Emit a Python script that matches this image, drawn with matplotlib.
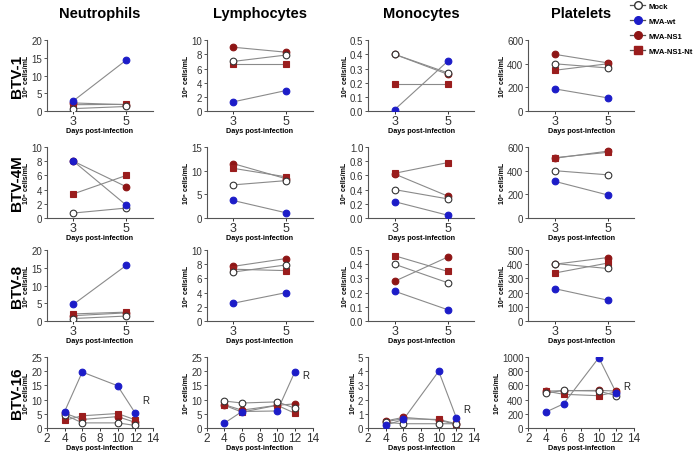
import matplotlib
matplotlib.use("Agg")
import matplotlib.pyplot as plt
from matplotlib.lines import Line2D

plt.rcParams['font.family'] = ['Liberation Sans', 'DejaVu Sans']

CELL_TYPES = ["Neutrophils", "Lymphocytes", "Monocytes", "Platelets"]
INFECTIONS = ["BTV-1", "BTV-4M", "BTV-8", "BTV-16"]
GROUPS = ["Mock", "MVA-wt", "MVA-NS1", "MVA-NS1-Nt"]

days_short = [3, 5]
days_long = [4, 6, 10, 12]

# each panel: [Mock, MVA-wt, MVA-NS1, MVA-NS1-Nt]
neut_btv1 = [[0.7, 1.3], [2.9, 14.4], [2.3, 1.8], [1.8, 1.9]]
lymph_btv1 = [[7.0, 7.9], [1.3, 2.9], [9.0, 8.3], [6.6, 6.6]]
mono_btv1 = [[0.40, 0.27], [0.01, 0.35], [0.40, 0.26], [0.19, 0.19]]
plt_btv1 = [[400, 365], [188, 112], [480, 408], [345, 400]]

neut_btv4 = [[0.7, 1.4], [8.0, 1.8], [8.0, 4.4], [3.4, 6.0]]
lymph_btv4 = [[7.0, 7.9], [3.7, 1.1], [11.5, 8.3], [10.5, 8.7]]
mono_btv4 = [[0.40, 0.27], [0.23, 0.04], [0.62, 0.31], [0.63, 0.78]]
plt_btv4 = [[400, 365], [310, 195], [505, 565], [510, 555]]

neut_btv8 = [[0.7, 1.4], [4.7, 15.7], [1.5, 2.3], [2.0, 2.5]]
lymph_btv8 = [[6.9, 7.9], [2.5, 4.0], [7.7, 8.8], [7.3, 7.1]]
mono_btv8 = [[0.40, 0.27], [0.21, 0.08], [0.28, 0.45], [0.46, 0.35]]
plt_btv8 = [[405, 370], [228, 147], [400, 447], [338, 408]]

neut_btv16 = [[4.7, 1.8, 1.8, 0.9], [5.8, 19.7, 14.9, 5.3],
              [5.2, 3.0, 4.0, 2.0], [2.7, 4.3, 5.1, 2.9]]
lymph_btv16 = [[9.5, 8.8, 9.2, 7.0], [1.7, 5.8, 6.0, 19.8],
               [8.2, 6.3, 8.0, 8.5], [8.0, 5.6, 8.0, 5.2]]
mono_btv16 = [[0.40, 0.30, 0.30, 0.30], [0.20, 0.60, 4.0, 0.72],
              [0.50, 0.75, 0.55, 0.25], [0.45, 0.65, 0.60, 0.30]]
plt_btv16 = [[490, 530, 520, 455], [225, 340, 990, 490],
             [520, 525, 530, 520], [520, 475, 455, 510]]

panels = [
    [neut_btv1, lymph_btv1, mono_btv1, plt_btv1],
    [neut_btv4, lymph_btv4, mono_btv4, plt_btv4],
    [neut_btv8, lymph_btv8, mono_btv8, plt_btv8],
    [neut_btv16, lymph_btv16, mono_btv16, plt_btv16],
]

# (ymax, tick step) per panel
y_scales = [
    [(20, 5), (10, 2), (0.5, 0.1), (600, 200)],
    [(10, 2), (15, 5), (1.0, 0.2), (600, 200)],
    [(20, 5), (10, 2), (0.5, 0.1), (500, 100)],
    [(25, 5), (25, 5), (5, 1), (1000, 200)],
]

styles = {
    "Mock": dict(marker='o', mfc='white', mec='#333333'),
    "MVA-wt": dict(marker='o', mfc='#1c1cc8', mec='#1c1cc8'),
    "MVA-NS1": dict(marker='o', mfc='#8e1515', mec='#8e1515'),
    "MVA-NS1-Nt": dict(marker='s', mfc='#9a1d1d', mec='#9a1d1d'),
}
draw_order = ["MVA-NS1", "MVA-NS1-Nt", "Mock", "MVA-wt"]
r_offsets = [(5, 6), (5, -6), (5, 3), (5, 0)]

fig = plt.figure(figsize=(6.96, 4.52), dpi=100)

lefts = [0.0675, 0.297, 0.529, 0.759]
bottoms = [0.752, 0.5155, 0.2876, 0.0509]
width, height = 0.152, 0.157

for r in range(4):
    for c in range(4):
        ax = fig.add_axes([lefts[c], bottoms[r], width, height])
        data = panels[r][c]
        days = days_long if r == 3 else days_short
        for g in draw_order:
            vals = data[GROUPS.index(g)]
            ax.plot(days, vals, color='#8a8a8a', lw=0.8, zorder=2)
            ax.plot(days, vals, ls='none', ms=4.8, mew=0.8, zorder=3, **styles[g])

        ymax, step = y_scales[r][c]
        n = int(round(ymax / step))
        ticks = [i * step for i in range(n + 1)]
        ax.set_ylim(0, ymax)
        ax.set_yticks(ticks)
        if ymax < 2:
            ax.set_yticklabels([f"{t:.1f}" for t in ticks])
        else:
            ax.set_yticklabels([f"{t:g}" for t in ticks])

        if r == 3:
            ax.set_xlim(2, 14)
            ax.set_xticks([2, 4, 6, 8, 10, 12, 14])
            ax.tick_params(axis='x', labelsize=8.5, pad=0.5)
            top = max(v[-1] for v in data)
            ax.annotate('R', xy=(12, top), xytext=r_offsets[c],
                        textcoords='offset points', fontsize=7, color='#222222',
                        va='bottom')
        else:
            ax.set_xlim(2, 6)
            ax.set_xticks([3, 5])
            ax.tick_params(axis='x', labelsize=9, pad=0.5)

        for s in ['top', 'right']:
            ax.spines[s].set_visible(False)
        for s in ['left', 'bottom']:
            ax.spines[s].set_color('#555555')
            ax.spines[s].set_linewidth(0.8)
        ax.tick_params(axis='y', labelsize=7, pad=1, colors='#333333')
        ax.tick_params(axis='both', length=2.5, width=0.7, color='#555555')
        ax.tick_params(axis='x', colors='#333333')
        ax.set_xlabel("Days post-infection", fontsize=5.2, fontweight='bold',
                      labelpad=0)
        ax.set_ylabel("10⁶ cells/mL", fontsize=5, fontweight='bold',
                      labelpad=1)

        if r == 0:
            ax.set_title(CELL_TYPES[c], fontsize=10.5, fontweight='bold',
                         pad=17)

    fig.text(0.025, bottoms[r] + height / 2, INFECTIONS[r], rotation=90,
             ha='center', va='center', fontsize=11, fontweight='bold')

handles = []
for g in GROUPS:
    handles.append(Line2D([], [], color='#555555', lw=0.9, ms=5.5, **styles[g]))
leg = fig.legend(handles, GROUPS, loc='upper left', bbox_to_anchor=(0.9, 1.0),
                 frameon=False, fontsize=5.5, handlelength=2.0,
                 labelspacing=1.0, handletextpad=0.4, borderaxespad=0.1)
for t in leg.get_texts():
    t.set_fontweight('bold')

fig.savefig("out.png", dpi=100)
